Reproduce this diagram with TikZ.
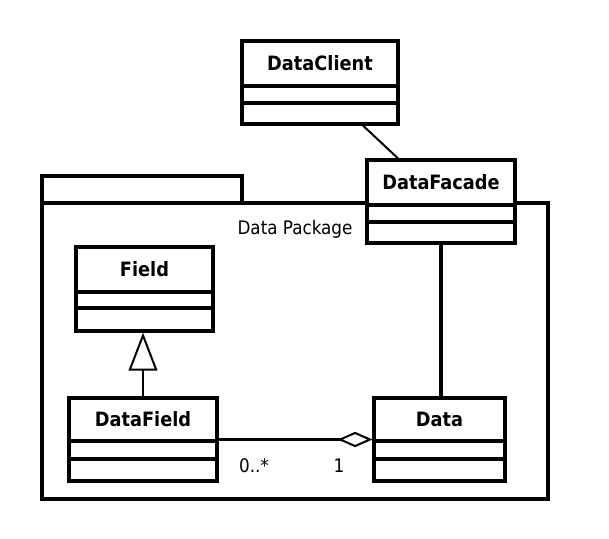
\documentclass[tikz,border=0pt]{standalone}
\usepackage{fontspec}
\setmainfont{DejaVu Sans Condensed}
\usetikzlibrary{arrows.meta,fit,calc}
\tikzset{
  box/.style={draw, line width=2.4pt, fill=white, inner sep=0pt},
  divider/.style={line width=2.4pt},
  ctitle/.style={font=\fontsize{14.8}{17}\selectfont\bfseries, inner sep=0pt},
  lbl/.style={font=\fontsize{14}{16}\selectfont, inner sep=0pt},
  thinlink/.style={line width=1.5pt},
  thicklink/.style={line width=2.4pt},
  pkg/.style={draw, line width=2.4pt},
}
\newcommand\umlcls[8]{%
  \path (#2,#3) coordinate (#1-nw) (#4,#5) coordinate (#1-se);
  \node[box, fit=(#1-nw)(#1-se)] (#1) {};
  \draw[divider] (#2,#6) -- (#4,#6) (#2,#7) -- (#4,#7);
  \node[ctitle] (#1-t) at ({(#2+#4)/2},{(#3+#6)/2}) {#8};
}
\begin{document}
\begin{tikzpicture}[x=0.75pt,y=-0.75pt]
\useasboundingbox (0,0) rectangle (609,538);
\fill[white] (0,0) rectangle (609,538);
% package
\draw[pkg] (42,176) rectangle (242,203);
\draw[pkg] (42,203) rectangle (548,499);
\node[lbl] (pkglbl) at (295,229) {Data Package};
% classes
\umlcls{dc}{242}{41}{398}{124}{86}{103}{DataClient}
\umlcls{fa}{367}{160}{515}{243}{205}{222}{DataFacade}
\umlcls{fld}{76}{247}{213}{331}{292}{308}{Field}
\umlcls{dfld}{69}{398}{217}{481}{441}{459}{DataField}
\umlcls{data}{374}{398}{505}{481}{441}{459}{Data}
% connectors
\draw[thinlink] ($(dc.south)+(43,0)$) -- ($(fa.north)+(-43,0)$);
\draw[thicklink] (fa.south) -- (fa.south |- data.north);
\draw[thinlink, -{Triangle[open, length=28.5pt, width=21.5pt, fill=white]}] (dfld.north) -- (dfld.north |- fld.south);
\draw[thicklink, -{Diamond[open, length=26pt, width=11.5pt, line width=1.5pt, fill=white]}] (dfld.east) -- (data.west);
\node[lbl] (m1) at (254,466) {0..*};
\node[lbl] (m2) at (339,466) {1};
\end{tikzpicture}
\end{document}
